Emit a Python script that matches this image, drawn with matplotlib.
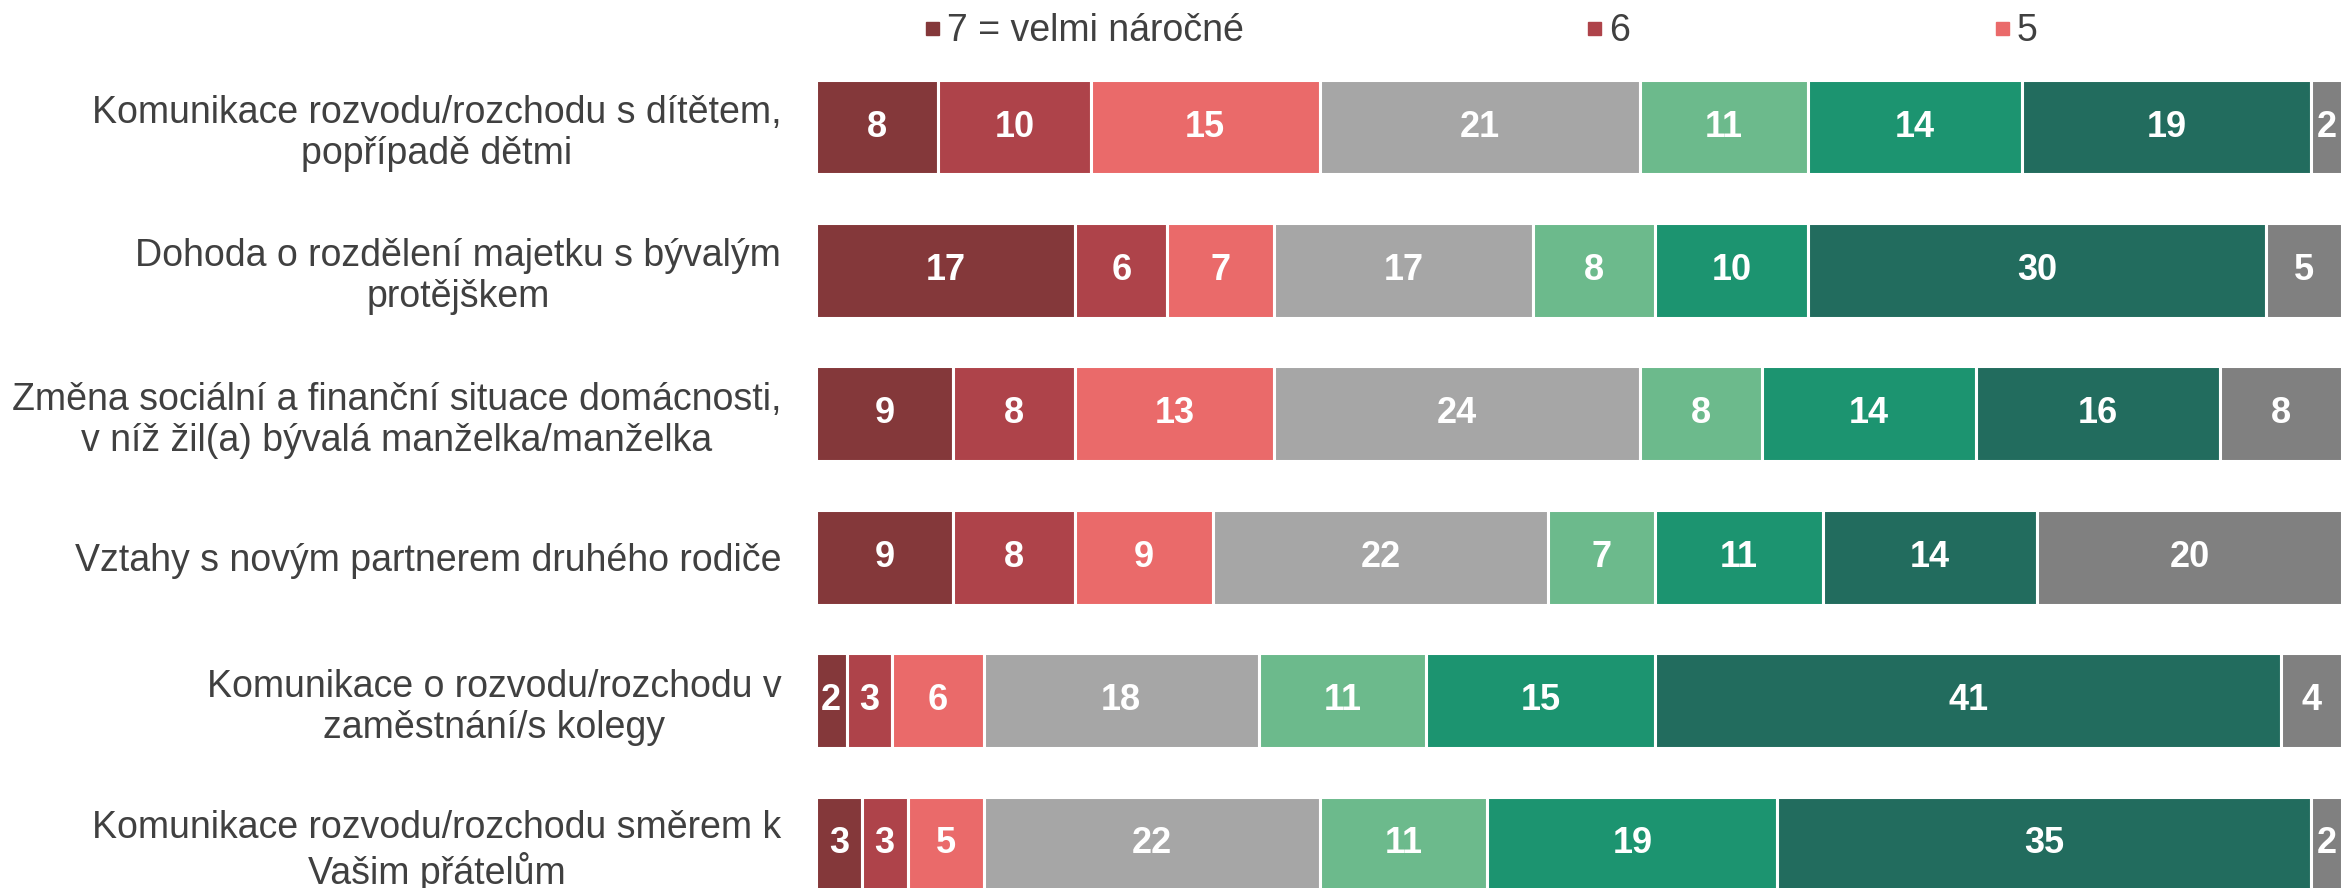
import matplotlib.pyplot as plt
import numpy as np

plt.rcParams['font.family'] = ['Liberation Sans', 'DejaVu Sans']

categories = [
    "Komunikace rozvodu/rozchodu s dítětem,\npopřípadě dětmi",
    "Dohoda o rozdělení majetku s bývalým\nprotějškem",
    "Změna sociální a finanční situace domácnosti,\nv níž žil(a) bývalá manželka/manželka",
    "Vztahy s novým partnerem druhého rodiče",
    "Komunikace o rozvodu/rozchodu v\nzaměstnání/s kolegy",
    "Komunikace rozvodu/rozchodu směrem k\nVašim přátelům",
]

# shares (%) per answer level, one list per level, rows in order of categories
level_names = ["7 = velmi náročné", "6", "5", "4", "3", "2", "1", "nevím"]
v7 = [8, 17, 9, 9, 2, 3]
v6 = [10, 6, 8, 8, 3, 3]
v5 = [15, 7, 13, 9, 6, 5]
v4 = [21, 17, 24, 22, 18, 22]
v3 = [11, 8, 8, 7, 11, 11]
v2 = [14, 10, 14, 11, 15, 19]
v1 = [19, 30, 16, 14, 41, 35]
v0 = [2, 5, 8, 20, 4, 2]

colors = ["#84383A", "#AE434A", "#EA6A6A", "#A6A6A6",
          "#6CBA8C", "#1C9470", "#226C5E", "#808080"]

series = [v7, v6, v5, v4, v3, v2, v1, v0]

fig = plt.figure(figsize=(23.43, 8.88), dpi=100)
ax = fig.add_axes([816 / 2343, 0.0, 1526 / 2343, 1.0])

y = np.arange(len(categories))
left = np.zeros(len(categories))
for vals, col, name in zip(series, colors, level_names):
    vals = np.array(vals, dtype=float)
    ax.barh(y, vals, left=left, height=0.66, color=col,
            edgecolor="white", linewidth=2.2, label=name)
    for yi, l, v in zip(y, left, vals):
        ax.text(l + v / 2, yi, f"{int(v)}", ha="center", va="center",
                color="white", fontsize=26, fontweight="bold")
    left += vals

ax.set_xlim(0, 100)
ax.set_ylim(5.307, -0.886)
ax.set_yticks(y)
ax.set_yticklabels(categories, fontsize=27, color="#404040")
for lab in ax.get_yticklabels():
    lab.set_multialignment("center")
    lab.set_linespacing(1.18)
ax.tick_params(axis="y", length=0, pad=25)
ax.tick_params(axis="x", bottom=False, labelbottom=False)
for s in ax.spines.values():
    s.set_visible(False)

# legend (only the first entries fit in the visible area)
leg_x = [926, 1588, 1996]
for xp, col, name in zip(leg_x, colors[:3], level_names[:3]):
    fig.patches.append(plt.Rectangle((xp / 2343, 1 - 35 / 888), 13 / 2343, 13 / 888,
                                     transform=fig.transFigure, color=col))
    fig.text((xp + 21) / 2343, 1 - 41 / 888, name, fontsize=27, color="#404040",
             ha="left", va="baseline")

fig.savefig("out.png", dpi=100)
